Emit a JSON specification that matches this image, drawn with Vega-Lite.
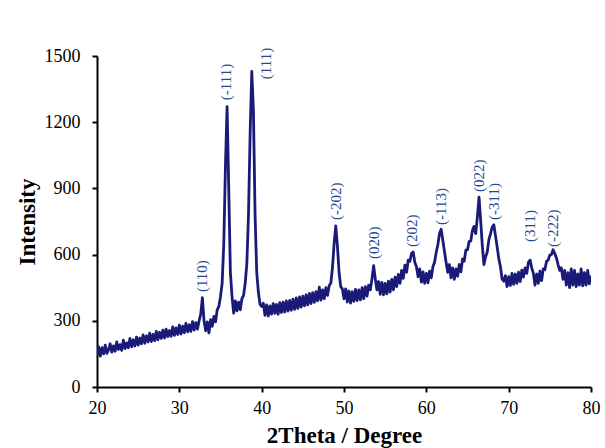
{
  "$schema": "https://vega.github.io/schema/vega-lite/v6.json",
  "autosize": "none",
  "width": 494,
  "height": 331,
  "padding": {"left": 97, "top": 56, "right": 14, "bottom": 61},
  "background": "white",
  "config": {"view": {"stroke": null}},
  "datasets": {
    "xrd": [
      {"t":20.0,"i":145},{"t":20.2,"i":182},{"t":20.4,"i":140},{"t":20.6,"i":178},{"t":20.8,"i":150},{"t":21.0,"i":190},{"t":21.2,"i":152},{"t":21.4,"i":168},{"t":21.6,"i":196},{"t":21.8,"i":158},
      {"t":22.0,"i":186},{"t":22.2,"i":162},{"t":22.4,"i":204},{"t":22.6,"i":170},{"t":22.8,"i":192},{"t":23.0,"i":166},{"t":23.2,"i":212},{"t":23.4,"i":174},{"t":23.6,"i":200},{"t":23.8,"i":178},
      {"t":24.0,"i":220},{"t":24.2,"i":182},{"t":24.4,"i":214},{"t":24.6,"i":186},{"t":24.8,"i":226},{"t":25.0,"i":190},{"t":25.2,"i":222},{"t":25.4,"i":196},{"t":25.6,"i":236},{"t":25.8,"i":198},
      {"t":26.0,"i":232},{"t":26.2,"i":204},{"t":26.4,"i":244},{"t":26.6,"i":206},{"t":26.8,"i":238},{"t":27.0,"i":210},{"t":27.2,"i":252},{"t":27.4,"i":214},{"t":27.6,"i":248},{"t":27.8,"i":220},
      {"t":28.0,"i":258},{"t":28.2,"i":222},{"t":28.4,"i":262},{"t":28.6,"i":228},{"t":28.8,"i":256},{"t":29.0,"i":230},{"t":29.2,"i":272},{"t":29.4,"i":234},{"t":29.6,"i":268},{"t":29.8,"i":238},
      {"t":30.0,"i":280},{"t":30.2,"i":240},{"t":30.4,"i":276},{"t":30.6,"i":246},{"t":30.8,"i":288},{"t":31.0,"i":250},{"t":31.2,"i":282},{"t":31.4,"i":252},{"t":31.6,"i":296},{"t":31.8,"i":258},
      {"t":32.0,"i":292},{"t":32.2,"i":262},{"t":32.4,"i":300},{"t":32.6,"i":330},{"t":32.8,"i":405},{"t":33.0,"i":300},{"t":33.2,"i":255},{"t":33.4,"i":295},{"t":33.6,"i":245},{"t":33.8,"i":305},
      {"t":34.0,"i":275},{"t":34.2,"i":320},{"t":34.4,"i":295},{"t":34.6,"i":350},{"t":34.8,"i":365},{"t":35.0,"i":410},{"t":35.2,"i":470},{"t":35.4,"i":650},{"t":35.6,"i":1000},{"t":35.8,"i":1270},
      {"t":36.0,"i":900},{"t":36.2,"i":520},{"t":36.4,"i":410},{"t":36.6,"i":335},{"t":36.8,"i":390},{"t":37.0,"i":345},{"t":37.2,"i":385},{"t":37.4,"i":350},{"t":37.6,"i":400},{"t":37.8,"i":415},
      {"t":38.0,"i":470},{"t":38.2,"i":560},{"t":38.4,"i":780},{"t":38.6,"i":1150},{"t":38.8,"i":1430},{"t":39.0,"i":1250},{"t":39.2,"i":780},{"t":39.4,"i":520},{"t":39.6,"i":430},{"t":39.8,"i":375},
      {"t":40.0,"i":365},{"t":40.2,"i":380},{"t":40.4,"i":325},{"t":40.6,"i":372},{"t":40.8,"i":322},{"t":41.0,"i":368},{"t":41.2,"i":330},{"t":41.4,"i":378},{"t":41.6,"i":334},{"t":41.8,"i":374},
      {"t":42.0,"i":330},{"t":42.2,"i":382},{"t":42.4,"i":338},{"t":42.6,"i":385},{"t":42.8,"i":340},{"t":43.0,"i":390},{"t":43.2,"i":344},{"t":43.4,"i":392},{"t":43.6,"i":348},{"t":43.8,"i":398},
      {"t":44.0,"i":352},{"t":44.2,"i":404},{"t":44.4,"i":356},{"t":44.6,"i":408},{"t":44.8,"i":362},{"t":45.0,"i":412},{"t":45.2,"i":368},{"t":45.4,"i":418},{"t":45.6,"i":372},{"t":45.8,"i":424},
      {"t":46.0,"i":378},{"t":46.2,"i":428},{"t":46.4,"i":384},{"t":46.6,"i":432},{"t":46.8,"i":390},{"t":47.0,"i":452},{"t":47.2,"i":394},{"t":47.4,"i":440},{"t":47.6,"i":400},{"t":47.8,"i":450},
      {"t":48.0,"i":415},{"t":48.2,"i":460},{"t":48.4,"i":470},{"t":48.6,"i":540},{"t":48.8,"i":650},{"t":49.0,"i":730},{"t":49.2,"i":640},{"t":49.4,"i":520},{"t":49.6,"i":455},{"t":49.8,"i":445},
      {"t":50.0,"i":400},{"t":50.2,"i":445},{"t":50.4,"i":385},{"t":50.6,"i":435},{"t":50.8,"i":380},{"t":51.0,"i":432},{"t":51.2,"i":388},{"t":51.4,"i":442},{"t":51.6,"i":392},{"t":51.8,"i":440},
      {"t":52.0,"i":395},{"t":52.2,"i":450},{"t":52.4,"i":400},{"t":52.6,"i":455},{"t":52.8,"i":412},{"t":53.0,"i":462},{"t":53.2,"i":440},{"t":53.4,"i":490},{"t":53.6,"i":550},{"t":53.8,"i":490},
      {"t":54.0,"i":440},{"t":54.2,"i":478},{"t":54.4,"i":420},{"t":54.6,"i":474},{"t":54.8,"i":418},{"t":55.0,"i":470},{"t":55.2,"i":422},{"t":55.4,"i":480},{"t":55.6,"i":430},{"t":55.8,"i":488},
      {"t":56.0,"i":440},{"t":56.2,"i":498},{"t":56.4,"i":455},{"t":56.6,"i":510},{"t":56.8,"i":470},{"t":57.0,"i":528},{"t":57.2,"i":492},{"t":57.4,"i":552},{"t":57.6,"i":520},{"t":57.8,"i":575},
      {"t":58.0,"i":570},{"t":58.2,"i":605},{"t":58.4,"i":612},{"t":58.6,"i":565},{"t":58.8,"i":545},{"t":59.0,"i":500},{"t":59.2,"i":535},{"t":59.4,"i":475},{"t":59.6,"i":522},{"t":59.8,"i":470},
      {"t":60.0,"i":515},{"t":60.2,"i":472},{"t":60.4,"i":525},{"t":60.6,"i":495},{"t":60.8,"i":545},{"t":61.0,"i":565},{"t":61.2,"i":610},{"t":61.4,"i":645},{"t":61.6,"i":695},{"t":61.8,"i":715},
      {"t":62.0,"i":665},{"t":62.2,"i":615},{"t":62.4,"i":565},{"t":62.6,"i":520},{"t":62.8,"i":555},{"t":63.0,"i":495},{"t":63.2,"i":540},{"t":63.4,"i":488},{"t":63.6,"i":535},{"t":63.8,"i":502},
      {"t":64.0,"i":555},{"t":64.2,"i":522},{"t":64.4,"i":580},{"t":64.6,"i":570},{"t":64.8,"i":620},{"t":65.0,"i":622},{"t":65.2,"i":660},{"t":65.4,"i":662},{"t":65.6,"i":710},{"t":65.8,"i":728},
      {"t":66.0,"i":695},{"t":66.2,"i":770},{"t":66.4,"i":860},{"t":66.6,"i":755},{"t":66.8,"i":640},{"t":67.0,"i":555},{"t":67.2,"i":590},{"t":67.4,"i":612},{"t":67.6,"i":668},{"t":67.8,"i":695},
      {"t":68.0,"i":725},{"t":68.2,"i":735},{"t":68.4,"i":685},{"t":68.6,"i":635},{"t":68.8,"i":582},{"t":69.0,"i":545},{"t":69.2,"i":490},{"t":69.4,"i":480},{"t":69.6,"i":505},{"t":69.8,"i":455},
      {"t":70.0,"i":500},{"t":70.2,"i":460},{"t":70.4,"i":515},{"t":70.6,"i":465},{"t":70.8,"i":512},{"t":71.0,"i":470},{"t":71.2,"i":520},{"t":71.4,"i":478},{"t":71.6,"i":530},{"t":71.8,"i":498},
      {"t":72.0,"i":540},{"t":72.2,"i":515},{"t":72.4,"i":565},{"t":72.6,"i":575},{"t":72.8,"i":540},{"t":73.0,"i":515},{"t":73.2,"i":462},{"t":73.4,"i":512},{"t":73.6,"i":470},{"t":73.8,"i":525},
      {"t":74.0,"i":482},{"t":74.2,"i":535},{"t":74.4,"i":532},{"t":74.6,"i":570},{"t":74.8,"i":575},{"t":75.0,"i":598},{"t":75.2,"i":600},{"t":75.4,"i":622},{"t":75.6,"i":605},{"t":75.8,"i":585},
      {"t":76.0,"i":555},{"t":76.2,"i":528},{"t":76.4,"i":540},{"t":76.6,"i":488},{"t":76.8,"i":528},{"t":77.0,"i":462},{"t":77.2,"i":518},{"t":77.4,"i":450},{"t":77.6,"i":535},{"t":77.8,"i":462},
      {"t":78.0,"i":528},{"t":78.2,"i":455},{"t":78.4,"i":512},{"t":78.6,"i":462},{"t":78.8,"i":535},{"t":79.0,"i":458},{"t":79.2,"i":518},{"t":79.4,"i":462},{"t":79.6,"i":528},{"t":79.8,"i":468},
      {"t":80.0,"i":505}
    ],
    "peaks": [
      {"t":32.75,"i":430,"hkl":"(110)"},
      {"t":35.7,"i":1300,"hkl":"(-111)"},
      {"t":40.5,"i":1395,"hkl":"(111)"},
      {"t":49.0,"i":757,"hkl":"(-202)"},
      {"t":53.6,"i":580,"hkl":"(020)"},
      {"t":58.3,"i":634,"hkl":"(202)"},
      {"t":61.8,"i":734,"hkl":"(-113)"},
      {"t":66.4,"i":884,"hkl":"(022)"},
      {"t":68.2,"i":757,"hkl":"(-311)"},
      {"t":72.6,"i":657,"hkl":"(311)"},
      {"t":75.4,"i":634,"hkl":"(-222)"}
    ]
  },
  "layer": [
    {
      "data": {"name": "xrd"},
      "mark": {"type": "line", "color": "#1a1a78", "strokeWidth": 2.8, "strokeJoin": "round", "clip": true},
      "encoding": {
        "x": {
          "field": "t", "type": "quantitative",
          "scale": {"domain": [20, 80], "nice": false, "zero": false},
          "axis": {
            "title": "2Theta / Degree",
            "values": [20, 30, 40, 50, 60, 70, 80],
            "grid": false,
            "labelFlush": false,
            "domainColor": "black", "domainWidth": 2,
            "tickColor": "black", "tickWidth": 2, "tickSize": 5,
            "labelFont": "Liberation Serif", "labelFontSize": 18, "labelColor": "black", "labelPadding": 7,
            "titleFont": "Liberation Serif", "titleFontSize": 23, "titleFontWeight": "bold", "titleColor": "black", "titlePadding": 7
          }
        },
        "y": {
          "field": "i", "type": "quantitative",
          "scale": {"domain": [0, 1500], "nice": false},
          "axis": {
            "title": "Intensity",
            "format": "d",
            "values": [0, 300, 600, 900, 1200, 1500],
            "grid": false,
            "labelFlush": false,
            "domainColor": "black", "domainWidth": 2,
            "tickColor": "black", "tickWidth": 2, "tickSize": 5,
            "labelFont": "Liberation Serif", "labelFontSize": 18, "labelColor": "black", "labelPadding": 12,
            "titleFont": "Liberation Serif", "titleFontSize": 23, "titleFontWeight": "bold", "titleColor": "black", "titlePadding": 5
          }
        }
      }
    },
    {
      "data": {"name": "peaks"},
      "mark": {"type": "text", "angle": 270, "align": "left", "baseline": "middle", "font": "Liberation Serif", "fontSize": 15, "color": "#1f4a96"},
      "encoding": {
        "x": {"field": "t", "type": "quantitative"},
        "y": {"field": "i", "type": "quantitative"},
        "text": {"field": "hkl"}
      }
    }
  ]
}
